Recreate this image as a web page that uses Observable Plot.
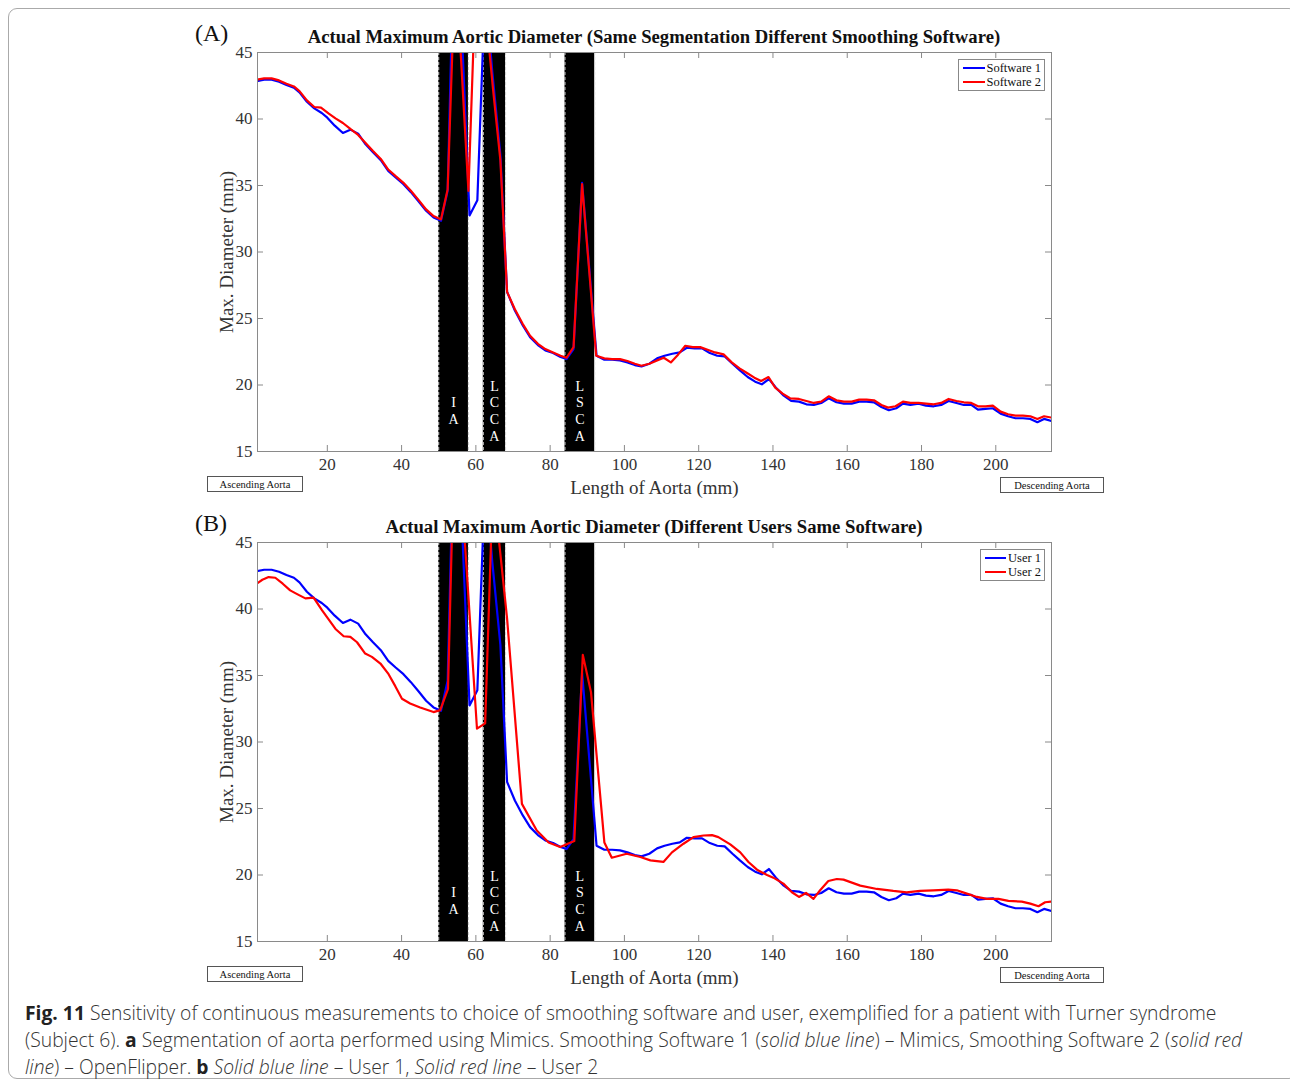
<!DOCTYPE html>
<html>
<head>
<meta charset="utf-8">
<script src="https://cdn.jsdelivr.net/npm/d3@7"></script>
<script src="https://cdn.jsdelivr.net/npm/@observablehq/plot@0.6"></script>
<style>
  html, body { margin: 0; padding: 0; background: #fff; overflow: hidden; }
  #root { position: relative; width: 1290px; height: 1084px; font-family: "Liberation Serif", serif; color: #111; }
  .abs { position: absolute; }
  .frameborder { left: 8px; top: 8px; width: 1290px; height: 1071px; border: 1px solid #aaa; border-radius: 9px; box-sizing: border-box; }
  .panel { left: 0; }
  .title { width: 794px; left: 257px; text-align: center; font-weight: bold; font-size: 18.7px; white-space: nowrap; }
  .plabel { font-size: 24px; left: 195px; }
  .legend { border: 1px solid #888; background: #fff; font-size: 12.5px; line-height: 14px; padding: 1px 3px 1px 4px; box-sizing: border-box; }
  .legend .it { display: flex; align-items: center; white-space: nowrap; }
  .legend .sw { width: 22px; height: 2px; margin-right: 2px; }
  .region { border: 1px solid #555; font-size: 10.5px; text-align: center; height: 16px; line-height: 15px; box-sizing: border-box; background: #fff; white-space: nowrap; }
  .caption { left: 25px; font-family: "Open Sans", sans-serif; font-weight: 300; font-size: 19.3px; line-height: 27px; color: #333; white-space: nowrap; }
  .caption b { font-weight: 700; color: #222; }
</style>
</head>
<body>
<div id="root">
  <div class="abs frameborder"></div>
</div>
<script>
// ---------------- data ----------------
const xTicks = [20, 40, 60, 80, 100, 120, 140, 160, 180, 200];
const yTicks = [15, 20, 25, 30, 35, 40, 45];

const branchNames = ["IA", "LCCA", "LSCA"];
const branchStart = [50, 62, 84];
const branchEnd = [58, 68, 92];

// Software 1 (blue, panel A) == User 1 (blue, panel B)
const soft1X = [1, 3, 5, 7, 9, 11, 12.5, 14.5, 16.5, 18.5, 20, 22, 24.2, 26.2, 28.3, 30.3, 32.3, 34.4, 36.4, 38.4, 40.5, 42.5, 44.6, 46.6, 48.6, 50.6, 52.4, 54.5, 58.3, 60.4, 62.5, 64.4, 66.6, 68.4, 70.5, 72.6, 74.6, 76.7, 78.7, 80.8, 82.8, 84.4, 86.3, 88.6, 92.5, 94.6, 96.7, 98.8, 100.8, 102.8, 104.6, 106.7, 108.8, 110.8, 112.9, 114.9, 116.8, 118.9, 120.9, 123.0, 125.0, 127.0, 129.1, 131.1, 133.2, 135.2, 137.0, 138.9, 140.8, 142.9, 144.9, 147.0, 149.0, 151.0, 153.0, 155.0, 157.1, 159.1, 161.2, 163.2, 165.2, 167.2, 169.2, 171.2, 173.2, 175.0, 177.0, 179.2, 181.2, 183.3, 185.3, 187.3, 189.4, 191.4, 193.4, 195.2, 197.2, 199.2, 201.3, 203.3, 205.3, 207.3, 209.3, 211.2, 213.0, 215.0];
const soft1Y = [42.85, 42.95, 42.95, 42.8, 42.55, 42.35, 42.0, 41.3, 40.8, 40.45, 40.1, 39.5, 38.95, 39.2, 38.9, 38.1, 37.5, 36.9, 36.1, 35.6, 35.1, 34.5, 33.8, 33.1, 32.6, 32.35, 34.6, 58, 32.75, 33.9, 50, 43.6, 37.3, 27.0, 25.6, 24.5, 23.6, 23.0, 22.6, 22.4, 22.1, 21.95, 22.7, 35.2, 22.2, 21.9, 21.9, 21.85, 21.7, 21.5, 21.4, 21.6, 22.0, 22.2, 22.35, 22.45, 22.8, 22.75, 22.75, 22.4, 22.2, 22.15, 21.6, 21.1, 20.6, 20.25, 20.05, 20.45, 19.8, 19.2, 18.8, 18.75, 18.55, 18.5, 18.65, 19.0, 18.7, 18.6, 18.6, 18.75, 18.75, 18.7, 18.35, 18.1, 18.25, 18.6, 18.5, 18.6, 18.45, 18.4, 18.5, 18.8, 18.65, 18.5, 18.5, 18.15, 18.2, 18.25, 17.85, 17.65, 17.5, 17.5, 17.45, 17.2, 17.45, 17.3];

// Software 2 (red, panel A)
const soft2X = [1, 3, 5, 7, 9, 11, 12.5, 14.5, 16.5, 18.3, 20.4, 22.2, 24.2, 26.2, 28.3, 30.3, 32.3, 34.4, 36.4, 38.4, 40.5, 42.5, 44.6, 46.6, 48.6, 50.6, 52.4, 54.5, 58.0, 60.4, 62.5, 64.6, 66.6, 68.4, 70.5, 72.6, 74.6, 76.7, 78.7, 80.8, 82.8, 84.4, 86.3, 88.6, 92.4, 94.6, 96.7, 98.8, 100.8, 102.8, 104.6, 106.7, 108.8, 110.6, 112.5, 114.5, 116.4, 118.4, 120.4, 122.4, 124.4, 126.7, 128.9, 131.0, 133.0, 135.0, 136.8, 138.8, 140.6, 142.6, 144.6, 147.0, 149.0, 151.0, 153.0, 155.0, 157.1, 159.1, 161.2, 163.2, 165.2, 167.2, 169.2, 171.0, 173.0, 175.0, 177.0, 179.2, 181.2, 183.3, 185.3, 187.3, 189.4, 191.4, 193.4, 195.2, 197.2, 199.2, 201.3, 203.3, 205.3, 207.3, 209.3, 211.2, 213.0, 215.0];
const soft2Y = [42.95, 43.05, 43.05, 42.9, 42.65, 42.45, 42.1, 41.4, 40.9, 40.85, 40.4, 40.05, 39.7, 39.25, 38.8, 38.2, 37.6, 37.0, 36.2, 35.7, 35.2, 34.6, 33.9, 33.2, 32.7, 32.45, 34.7, 52, 34.6, 54, 48.5, 42.3, 36.9, 27.0, 25.7, 24.6, 23.7, 23.1, 22.7, 22.45, 22.2, 22.05, 22.85, 35.1, 22.2, 22.0, 21.95, 21.95, 21.8, 21.6, 21.45, 21.6, 21.85, 22.05, 21.7, 22.3, 22.95, 22.85, 22.85, 22.65, 22.45, 22.3, 21.7, 21.25, 20.9, 20.55, 20.3, 20.6, 19.8, 19.35, 19.0, 18.95, 18.8, 18.65, 18.75, 19.15, 18.85, 18.75, 18.75, 18.9, 18.9, 18.85, 18.5, 18.3, 18.4, 18.75, 18.65, 18.65, 18.6, 18.55, 18.65, 18.95, 18.8, 18.7, 18.65, 18.4, 18.4, 18.45, 18.0, 17.8, 17.7, 17.7, 17.65, 17.45, 17.65, 17.55];

// User 1 (blue, panel B) = same measurements as Software 1
const user1X = soft1X;
const user1Y = soft1Y;

// User 2 (red, panel B)
const user2X = [1, 2.5, 4.2, 6, 8, 10, 12, 14.1, 16.3, 18.6, 20.4, 22.2, 24.4, 26.2, 28, 30.2, 32, 34.3, 36.5, 38.3, 40.1, 42.3, 45, 48.6, 50.4, 52.5, 54.5, 60.3, 62.5, 64.6, 68.4, 72.4, 76.4, 79.6, 82.7, 86.5, 88.8, 91.0, 94.6, 96.6, 100.6, 104.3, 107, 110.5, 112.8, 115.9, 118.6, 121.3, 123.6, 125.3, 128.5, 131.2, 133.4, 135.7, 138.4, 140.1, 142.8, 145.1, 147, 148.9, 150.9, 152.7, 154.9, 157.2, 159, 163.5, 168, 172.4, 176, 179.6, 183.2, 187.2, 189.5, 192.2, 194.9, 197.6, 200.7, 203.4, 207, 209.3, 211.5, 213.3, 215];
const user2Y = [41.9, 42.2, 42.4, 42.35, 41.9, 41.4, 41.1, 40.8, 40.85, 39.9, 39.2, 38.5, 37.95, 37.9, 37.5, 36.65, 36.4, 35.9, 35.1, 34.2, 33.25, 32.9, 32.6, 32.25, 32.4, 34.0, 56, 31.0, 31.4, 49.5, 39.3, 25.35, 23.35, 22.45, 22.1, 22.55, 36.55, 33.75, 22.45, 21.3, 21.6, 21.35, 21.1, 20.98, 21.7, 22.35, 22.85, 22.97, 23.0, 22.85, 22.3, 21.7, 20.98, 20.4, 20.0, 19.8, 19.35, 18.7, 18.35, 18.65, 18.2, 18.85, 19.55, 19.7, 19.65, 19.2, 18.95, 18.8, 18.7, 18.8, 18.85, 18.9, 18.85, 18.6, 18.35, 18.2, 18.2, 18.05, 18.0, 17.85, 17.65, 17.95, 18.0];

const panels = [
  {tag: "(A)", title: "Actual Maximum Aortic Diameter (Same Segmentation Different Smoothing Software)",
   names: ["Software 1", "Software 2"], blue: [soft1X, soft1Y], red: [soft2X, soft2Y], legendW: 87},
  {tag: "(B)", title: "Actual Maximum Aortic Diameter (Different Users Same Software)",
   names: ["User 1", "User 2"], blue: [user1X, user1Y], red: [user2X, user2Y], legendW: 65}
];

// ---------------- drawing ----------------
const root = document.getElementById("root");
const W = 1290, H = 502, mL = 257, mR = 239, mT = 52, mB = 51;
const frameW = W - mL - mR, frameH = H - mT - mB;
const branches = branchNames.map((name, i) => ({name, start: branchStart[i], end: branchEnd[i]}));
const toRows = ([xs, ys]) => xs.map((x, i) => ({x, y: ys[i]}));
const tickColor = "#8a8a8a";

panels.forEach((p, k) => {
  const top = k * 490;
  const chart = Plot.plot({
    width: W, height: H,
    marginLeft: mL, marginRight: mR, marginTop: mT, marginBottom: mB,
    x: {domain: [1.2, 215]},
    y: {domain: [15, 45]},
    style: {fontFamily: "Liberation Serif, serif", fontSize: "16px", color: "#333", background: "transparent"},
    marks: [
      Plot.rect(branches, {x1: "start", x2: "end", fill: "black"}),
      Plot.ruleX(branches, {x: "start", stroke: "#cfcfcf", strokeDasharray: "3,2", strokeWidth: 1}),
      Plot.ruleX(branches, {x: "end", stroke: "#cfcfcf", strokeDasharray: "3,2", strokeWidth: 1}),
      Plot.text(branches, {x: d => (d.start + d.end) / 2, text: d => d.name.split("").join("\n"),
        frameAnchor: "bottom", dy: -41, lineAnchor: "middle", lineHeight: 1.2,
        fill: "white", fontSize: 14, fontFamily: "Liberation Serif, serif"}),
      // inward ticks on all four sides
      Plot.ruleX(xTicks, {x: d => d, insetTop: frameH - 6, stroke: tickColor}),
      Plot.ruleX(xTicks, {x: d => d, insetBottom: frameH - 6, stroke: tickColor}),
      Plot.ruleY(yTicks, {y: d => d, insetRight: frameW - 6, stroke: tickColor}),
      Plot.ruleY(yTicks, {y: d => d, insetLeft: frameW - 6, stroke: tickColor}),
      Plot.axisX(xTicks, {tickSize: 0, tickPadding: 6, label: null, fontSize: 17, fill: "#333"}),
      Plot.axisY(yTicks, {tickSize: 0, tickPadding: 5, label: null, fontSize: 17, fill: "#333"}),
      Plot.line(toRows(p.blue), {x: "x", y: "y", stroke: "#0000ff", strokeWidth: 2.2, clip: true}),
      Plot.line(toRows(p.red), {x: "x", y: "y", stroke: "#ff0000", strokeWidth: 2.2, clip: true}),
      Plot.frame({stroke: tickColor}),
      Plot.text(["Length of Aorta (mm)"], {frameAnchor: "bottom", dy: 36, lineAnchor: "middle", textAnchor: "middle",
        fontSize: 19, fill: "#333", fontFamily: "Liberation Serif, serif"}),
      Plot.text(["Max. Diameter (mm)"], {frameAnchor: "left", dx: -31, rotate: -90, lineAnchor: "middle", textAnchor: "middle",
        fontSize: 19, fill: "#333", fontFamily: "Liberation Serif, serif"})
    ]
  });
  chart.classList.add("abs", "panel");
  chart.style.top = top + "px";
  root.appendChild(chart);

  const title = document.createElement("div");
  title.className = "abs title";
  title.style.top = (top + 26) + "px";
  title.textContent = p.title;
  root.appendChild(title);

  const tag = document.createElement("div");
  tag.className = "abs plabel";
  tag.style.top = (top + 20) + "px";
  tag.textContent = p.tag;
  root.appendChild(tag);

  const lg = document.createElement("div");
  lg.className = "abs legend";
  lg.style.left = (1045 - p.legendW) + "px";
  lg.style.top = (top + 59) + "px";
  lg.style.width = p.legendW + "px";
  [["#0000ff", p.names[0]], ["#ff0000", p.names[1]]].forEach(([c, n]) => {
    const it = document.createElement("div");
    it.className = "it";
    const sw = document.createElement("div");
    sw.className = "sw";
    sw.style.background = c;
    const t = document.createElement("span");
    t.textContent = n;
    it.appendChild(sw); it.appendChild(t);
    lg.appendChild(it);
  });
  root.appendChild(lg);

  const asc = document.createElement("div");
  asc.className = "abs region";
  asc.style.left = "207px"; asc.style.width = "96px"; asc.style.top = (top + 476) + "px";
  asc.textContent = "Ascending Aorta";
  root.appendChild(asc);

  const desc = document.createElement("div");
  desc.className = "abs region";
  desc.style.left = "1000px"; desc.style.width = "104px"; desc.style.top = (top + 477) + "px";
  desc.textContent = "Descending Aorta";
  root.appendChild(desc);
});

const cap = document.createElement("div");
cap.className = "abs caption";
cap.style.top = "999px";
cap.innerHTML =
  "<b>Fig. 11</b> Sensitivity of continuous measurements to choice of smoothing software and user, exemplified for a patient with Turner syndrome<br>" +
  "(Subject 6). <b>a</b> Segmentation of aorta performed using Mimics. Smoothing Software 1 (<i>solid blue line</i>) – Mimics, Smoothing Software 2 (<i>solid red</i><br>" +
  "<i>line</i>) – OpenFlipper. <b>b</b> <i>Solid blue line</i> – User 1, <i>Solid red line</i> – User 2";
root.appendChild(cap);
</script>
</body>
</html>
